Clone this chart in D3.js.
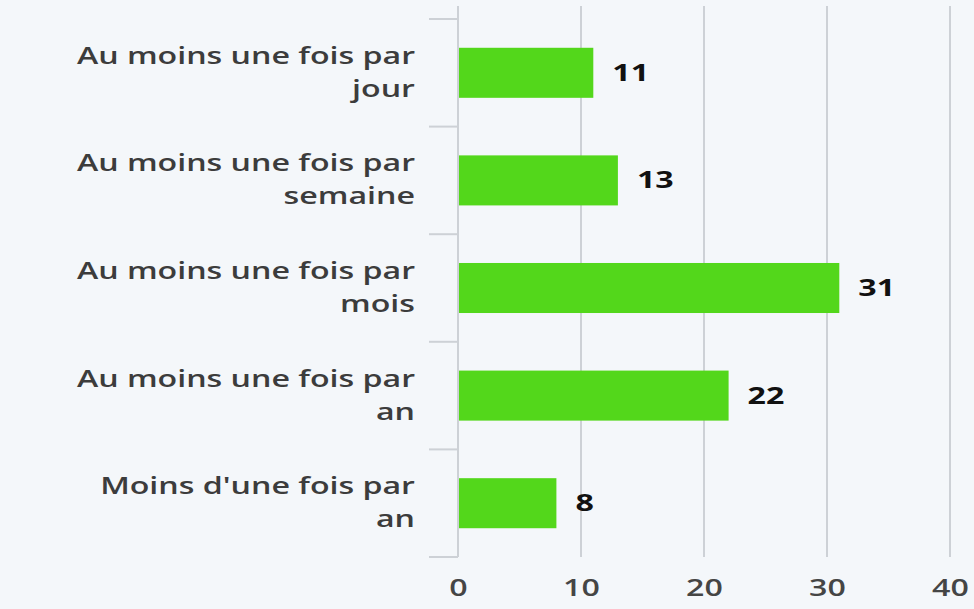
<!DOCTYPE html>
<html>
<head>
<meta charset="utf-8">
<script src="https://cdn.jsdelivr.net/npm/d3@7"></script>
<style>
	html, body { margin: 0; padding: 0; background: #f4f7fa; }
	svg { display: block; }
	.cat { font-family: "Open Sans", sans-serif; font-size: 24px; font-weight: 600; fill: #3c3c3c; }
	.tick text { font-family: "Open Sans", sans-serif; font-size: 24px; font-weight: 600; fill: #454545; }
	.val { font-family: "Open Sans", sans-serif; font-size: 24px; font-weight: 700; fill: #111; }
</style>
</head>
<body>
<svg id="chart" width="974" height="609"></svg>
<script>
var categories = [
	"Au moins une fois par jour",
	"Au moins une fois par semaine",
	"Au moins une fois par mois",
	"Au moins une fois par an",
	"Moins d'une fois par an"
]
var values = [11, 13, 31, 22, 8]
var xTicks = [0, 10, 20, 30, 40]

var margin = {top: 19, right: 24, bottom: 52, left: 458}
var width = 974, height = 609
var stretch = 1.34   // the picture's text is wide, stretch it horizontally
var svg = d3.select("#chart")

var x = d3.scaleLinear().domain([0, 40]).range([margin.left, width - margin.right])
var y = d3.scaleBand().domain(categories).range([margin.top, height - margin.bottom]).paddingInner(0.535).paddingOuter(0.2675)

// grid lines
svg.append("g").selectAll("line")
	.data(xTicks.slice(1))
	.join("line")
	.attr("x1", d => x(d)).attr("x2", d => x(d))
	.attr("y1", 6).attr("y2", height - margin.bottom)
	.attr("stroke", "#cdd1d6").attr("stroke-width", 2)

// x axis labels
var xAxis = d3.axisBottom(x).tickValues(xTicks).tickSize(0).tickPadding(22)
svg.append("g")
	.attr("transform", "translate(0," + (height - margin.bottom) + ")")
	.call(xAxis)
	.call(g => g.select(".domain").remove())
	.call(g => g.selectAll(".tick text").attr("transform", "scale(" + stretch + ",1)"))

// category axis line and band ticks
var step = y.step()
var bounds = d3.range(categories.length + 1).map(i => margin.top + i * step)
svg.append("line")
	.attr("x1", margin.left).attr("x2", margin.left)
	.attr("y1", 6).attr("y2", height - margin.bottom)
	.attr("stroke", "#cdd1d6").attr("stroke-width", 2)
svg.append("g").selectAll("line")
	.data(bounds)
	.join("line")
	.attr("x1", margin.left - 29).attr("x2", margin.left)
	.attr("y1", d => d).attr("y2", d => d)
	.attr("stroke", "#cdd1d6").attr("stroke-width", 2)

// category labels, two lines
svg.append("g").selectAll("text")
	.data(categories)
	.join("text")
	.attr("class", "cat")
	.attr("text-anchor", "end")
	.attr("transform", "translate(415,0) scale(" + stretch + ",1)")
	.each(function(d) {
		var cut = d.lastIndexOf(" ")
		var lines = [d.slice(0, cut), d.slice(cut + 1)]
		var cy = y(d) + y.bandwidth() / 2
		d3.select(this).selectAll("tspan")
			.data(lines)
			.join("tspan")
			.attr("x", 0)
			.attr("y", (l, i) => cy + (i == 0 ? -9 : 24))
			.text(l => l)
	})

// bars
svg.append("g").selectAll("rect")
	.data(values)
	.join("rect")
	.attr("x", x(0) + 1)
	.attr("y", (d, i) => y(categories[i]))
	.attr("width", d => x(d) - x(0) - 1)
	.attr("height", y.bandwidth())
	.attr("fill", "#53d71b")

// value labels
svg.append("g").selectAll("text")
	.data(values)
	.join("text")
	.attr("class", "val")
	.attr("transform", (d, i) => "translate(" + (x(d) + 19) + "," + (y(categories[i]) + y.bandwidth() / 2 + 8) + ") scale(" + stretch + ",1)")
	.text(d => d)
</script>
</body>
</html>
